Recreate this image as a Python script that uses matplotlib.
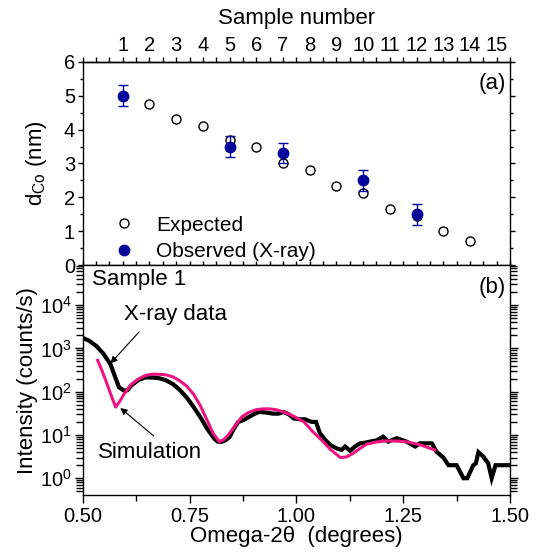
import matplotlib as mpl
mpl.use('Agg')
from matplotlib import pyplot as plt
from matplotlib.ticker import MultipleLocator, LogLocator, NullFormatter
from matplotlib.lines import Line2D

plt.rcParams['font.family'] = ['Liberation Sans', 'DejaVu Sans']
plt.rcParams['mathtext.fontset'] = 'custom'
plt.rcParams['mathtext.rm'] = 'Liberation Sans'
plt.rcParams['mathtext.it'] = 'Liberation Sans:italic'
plt.rcParams['mathtext.default'] = 'regular'
plt.rcParams['axes.linewidth'] = 1.0

# Panel (a): Co thickness per sample
expected_sample = [1, 2, 3, 4, 5, 6, 7, 8, 9, 10, 11, 12, 13, 14]
expected_d = [5.0, 4.76, 4.32, 4.10, 3.70, 3.48, 3.02, 2.82, 2.34, 2.12, 1.66, 1.45, 1.00, 0.73]
observed_sample = [1, 5, 7, 10, 12]
observed_d = [5.0, 3.5, 3.3, 2.5, 1.5]
observed_err = [0.3, 0.3, 0.3, 0.3, 0.3]

# Panel (b): reflectivity of sample 1
xray_x = [0.500, 0.515, 0.532, 0.548, 0.565, 0.575, 0.585, 0.597, 0.605, 0.613,
          0.630, 0.646, 0.662, 0.678, 0.694, 0.711, 0.727, 0.743, 0.759, 0.775,
          0.791, 0.808, 0.816, 0.824, 0.834, 0.844, 0.854, 0.864, 0.876, 0.889,
          0.900, 0.913, 0.929, 0.945, 0.958, 0.970, 0.982, 0.994, 1.008, 1.020,
          1.036, 1.046, 1.055, 1.066, 1.079, 1.094, 1.106, 1.114, 1.126, 1.137,
          1.149, 1.160, 1.172, 1.188, 1.203, 1.215, 1.235, 1.258, 1.278, 1.289,
          1.317, 1.328, 1.344, 1.356, 1.375, 1.391, 1.400, 1.414, 1.420, 1.426,
          1.437, 1.449, 1.457, 1.466, 1.480, 1.500]
xray_y = [1750, 1500, 1130, 760, 430, 230, 126, 105, 108, 137,
          185, 213, 212, 205, 185, 150, 110, 74, 45, 26,
          14, 8.2, 7.0, 6.9, 7.5, 9.0, 14, 20, 22, 26,
          30, 34, 33, 31, 31, 34, 30, 24, 23, 23,
          20, 20, 11, 8, 5.9, 4.9, 4.5, 5.4, 4.3, 5.4,
          6.4, 6.6, 7.0, 7.5, 9.1, 7.0, 8.4, 7.0, 5.4, 6.4,
          6.4, 4.1, 3.0, 2.0, 2.0, 1.0, 1.0, 2.0, 2.2, 4.0,
          3.2, 2.2, 1.0, 2.0, 2.0, 2.0]

sim_x = [0.535, 0.546, 0.557, 0.567, 0.577, 0.587, 0.597, 0.613, 0.630, 0.646,
         0.662, 0.678, 0.694, 0.711, 0.727, 0.743, 0.759, 0.775, 0.791, 0.805,
         0.820, 0.830, 0.840, 0.856, 0.872, 0.888, 0.905, 0.921, 0.937, 0.954,
         0.970, 0.994, 1.018, 1.038, 1.059, 1.080, 1.103, 1.117, 1.132, 1.148,
         1.164, 1.188, 1.213, 1.237, 1.261, 1.292, 1.324]
sim_y = [530, 290, 150, 80, 44, 60, 89, 145, 195, 235,
         253, 252, 245, 220, 178, 135, 89, 48, 22, 11,
         6.9, 7.8, 9.8, 16, 26, 33, 38, 40, 40, 38,
         34, 27, 20, 12, 7.6, 4.6, 3.0, 3.1, 3.7, 4.8,
         6.1, 6.9, 7.3, 7.2, 6.9, 5.8, 4.5]

blue = '#06069a'
pink = '#ee1480'
tick_fs = 14.5
label_fs = 16

fig = plt.figure(figsize=(5.42, 5.53), dpi=100)
ax1 = fig.add_axes([0.1526, 0.5203, 0.7884, 0.3681])
ax2 = fig.add_axes([0.1526, 0.1049, 0.7884, 0.4154])

# ---- panel (a)
ax1.plot(expected_sample, expected_d, 'o', mfc='white', mec='black', mew=1.0, ms=6.5,
         zorder=2)
ax1.errorbar(observed_sample, observed_d, yerr=observed_err, fmt='o', color=blue,
             ms=7.5, elinewidth=1.0, capsize=3.5, capthick=1.0, zorder=3)
ax1.set_xlim(-0.5, 15.5)
ax1.set_ylim(0, 6)
ax1.yaxis.set_major_locator(MultipleLocator(1))
ax1.yaxis.set_minor_locator(MultipleLocator(0.5))
ax1.xaxis.set_major_locator(MultipleLocator(0.5))
ax1.tick_params(axis='x', which='both', bottom=True, top=False, direction='in',
                labelbottom=False, length=3, width=1)
ax1.tick_params(axis='y', which='both', left=True, right=True, direction='out',
                labelsize=tick_fs, width=1, pad=2)
ax1.tick_params(axis='y', which='major', length=3.5)
ax1.tick_params(axis='y', which='minor', length=2.5)
ax1.set_ylabel('d$_{Co}$ (nm)', fontsize=label_fs, labelpad=11)

top = ax1.secondary_xaxis('top')
top.set_xticks(range(1, 16))
top.xaxis.set_minor_locator(MultipleLocator(0.5))
top.tick_params(which='both', direction='out', width=1, labelsize=tick_fs, pad=1)
top.tick_params(which='major', length=3.5)
top.tick_params(which='minor', length=3.5)
top.set_xlabel('Sample number', fontsize=label_fs, labelpad=9)

ax1.text(0.99, 0.895, '(a)', transform=ax1.transAxes, ha='right', va='center',
         fontsize=16)

handles = [Line2D([], [], ls='none', marker='o', mfc='white', mec='black', mew=1.0, ms=6.5),
           Line2D([], [], ls='none', marker='o', color=blue, ms=7.5)]
ax1.legend(handles, ['Expected', 'Observed (X-ray)'], loc='lower left',
           bbox_to_anchor=(0.072, 0.02), frameon=False, borderpad=0, borderaxespad=0,
           handlelength=1.0, handletextpad=1.05, labelspacing=0.36, fontsize=15)

# ---- panel (b)
ax2.semilogy(xray_x, xray_y, color='black', lw=3.0, solid_joinstyle='miter', zorder=2)
ax2.semilogy(sim_x, sim_y, color=pink, lw=2.2, zorder=3)
ax2.set_xlim(0.5, 1.5)
ax2.set_ylim(0.41, 8.3e4)
ax2.xaxis.set_major_locator(MultipleLocator(0.25))
ax2.xaxis.set_minor_locator(MultipleLocator(0.125))
ax2.xaxis.set_major_formatter(mpl.ticker.FormatStrFormatter('%.2f'))
ax2.yaxis.set_major_locator(LogLocator(base=10, numticks=10))
ax2.yaxis.set_minor_locator(LogLocator(base=10, subs=range(2, 10), numticks=10))
ax2.yaxis.set_minor_formatter(NullFormatter())
ax2.tick_params(axis='x', which='both', top=False, direction='out', labelsize=tick_fs,
                width=1, pad=3)
ax2.tick_params(axis='x', which='major', length=6)
ax2.tick_params(axis='x', which='minor', length=4)
ax2.tick_params(axis='y', which='both', left=True, right=True, direction='out',
                labelsize=tick_fs, width=1, pad=2)
ax2.tick_params(axis='y', which='major', length=6)
ax2.tick_params(axis='y', which='minor', length=5)
ax2.set_xlabel('Omega-2θ  (degrees)', fontsize=label_fs, labelpad=0)
ax2.set_ylabel('Intensity (counts/s)', fontsize=label_fs, labelpad=1)

ax2.text(0.022, 0.94, 'Sample 1', transform=ax2.transAxes, ha='left', va='center',
         fontsize=label_fs)
ax2.text(0.99, 0.903, '(b)', transform=ax2.transAxes, ha='right', va='center',
         fontsize=16)

# labels with their arrows
ax2.text(0.597, 6000, 'X-ray data', fontsize=label_fs, ha='left', va='center')
ax2.annotate('', xy=(0.565, 450), xytext=(0.632, 2400),
             arrowprops=dict(arrowstyle='-|>', color='black', lw=0.8,
                             mutation_scale=10, shrinkA=0, shrinkB=0))
ax2.text(0.536, 4.0, 'Simulation', fontsize=label_fs, ha='left', va='center')
ax2.annotate('', xy=(0.588, 42), xytext=(0.666, 9.5),
             arrowprops=dict(arrowstyle='-|>', color='black', lw=0.8,
                             mutation_scale=10, shrinkA=0, shrinkB=0))

plt.savefig('out.png', dpi=100)
